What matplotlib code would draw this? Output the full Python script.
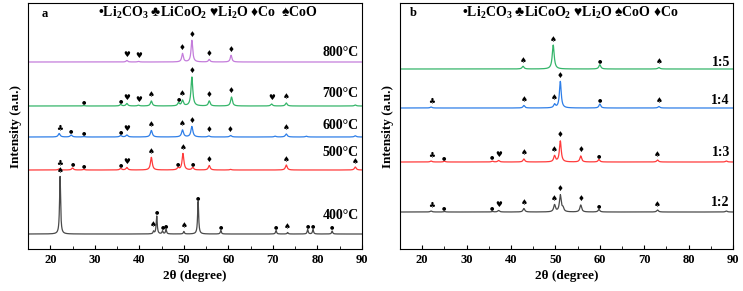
import numpy as np
import matplotlib
matplotlib.use("Agg")
import matplotlib.pyplot as plt

plt.rcParams['font.family'] = ['Liberation Serif', 'DejaVu Sans']
plt.rcParams['font.weight'] = 'bold'
plt.rcParams['mathtext.fontset'] = 'custom'
plt.rcParams['mathtext.rm'] = 'Liberation Serif:bold'
plt.rcParams['mathtext.it'] = 'Liberation Serif:bold'
plt.rcParams['mathtext.bf'] = 'Liberation Serif:bold'
plt.rcParams['mathtext.fallback'] = 'stix'

# ---------------- panel a: calcination temperature ----------------
a_labels = ['400°C', '500°C', '600°C', '700°C', '800°C']
a_colors = ['#4a4a4a', '#ff3b3b', '#2f7fe8', '#35b56a', '#c47ddb']
a_base = [15, 79, 112, 143, 187]
a_width = [0.14, 0.24, 0.26, 0.24, 0.22]
a_peaks = [
    [22.2, 43.2, 43.9, 45.2, 46.0, 50.0, 53.2, 58.3, 70.7, 73.3, 77.8, 79.0, 83.3],
    [22.0, 25.0, 27.5, 35.8, 37.2, 42.7, 48.7, 49.8, 52.0, 55.7, 60.5, 73.0, 88.5],
    [22.0, 24.7, 27.5, 35.8, 37.2, 42.7, 49.7, 51.8, 55.6, 60.5, 70.5, 73.0, 77.5, 88.5],
    [27.5, 35.8, 37.2, 39.8, 42.7, 48.8, 49.7, 51.8, 55.7, 60.7, 69.7, 73.0, 88.5],
    [37.2, 39.8, 49.7, 51.8, 55.7, 60.6],
]
a_heights = [
    [57.6, 2.5, 18.0, 3.0, 4.5, 2.5, 33.0, 3.5, 3.5, 1.5, 4.5, 4.5, 3.0],
    [1.2, 2.0, 0.6, 1.5, 2.5, 12.7, 2.0, 16.5, 2.5, 4.5, 0.6, 5.0, 3.0],
    [3.5, 2.0, 0.4, 1.5, 2.0, 6.5, 7.0, 10.5, 1.0, 1.5, 0.8, 3.0, 0.8, 1.2],
    [0.4, 1.5, 2.5, 0.8, 5.0, 3.0, 5.5, 29.0, 5.0, 9.0, 2.0, 3.0, 1.0],
    [1.5, 0.6, 8.4, 21.7, 2.5, 6.7],
]
a_symbols = [
    ['♠', '♠', '●', '●', '●', '♠', '●', '●', '●', '♠', '●', '●', '●'],
    ['♣', '●', '●', '●', '♥', '♠', '●', '♠', '●', '♦', '', '♠', '♠'],
    ['♣', '●', '●', '●', '♥', '♠', '♠', '♦', '♦', '♦', '', '♠', '', ''],
    ['●', '●', '♥', '♥', '♠', '●', '♠', '♦', '♦', '♦', '♥', '♠', ''],
    ['♥', '♥', '♦', '♦', '♦', '♦'],
]
a_label_y = [34, 97, 124, 156, 196]

# ---------------- panel b: ratio ----------------
b_labels = ['1:2', '1:3', '1:4', '1:5']
b_colors = ['#4a4a4a', '#ff3b3b', '#2f7fe8', '#35b56a']
b_base = [37, 87, 141, 180]
b_width = [0.24, 0.24, 0.24, 0.26]
b_peaks = [
    [22.0, 25.0, 35.8, 37.2, 42.9, 49.8, 51.1, 51.7, 55.7, 59.8, 73.0, 88.5],
    [22.0, 25.0, 35.8, 37.2, 42.9, 49.8, 51.1, 55.7, 59.8, 73.0, 88.5],
    [22.0, 42.9, 49.8, 51.1, 60.0, 73.3],
    [42.7, 49.5, 60.0, 73.3],
]
b_heights = [
    [1.0, 0.5, 0.5, 1.5, 3.5, 7.0, 16.7, 3.5, 7.0, 2.5, 2.0, 1.0],
    [1.0, 0.8, 0.8, 1.5, 3.0, 6.0, 21.0, 6.0, 2.5, 2.0, 1.0],
    [1.0, 2.5, 3.5, 26.6, 4.0, 1.5],
    [2.7, 24.0, 4.3, 1.5],
]
b_symbols = [
    ['♣', '●', '●', '♥', '♠', '♠', '♦', '', '♦', '●', '♠', ''],
    ['♣', '●', '●', '♥', '♠', '♠', '♦', '♦', '●', '♠', ''],
    ['♣', '♠', '♠', '♦', '●', '♠'],
    ['♠', '♠', '●', '♠'],
]
b_label_y = [47, 97, 149, 187]

two_theta = np.linspace(15, 90, 3000)
sym_size = {'●': 3.6, '♠': 5.5, '♣': 5.5, '♥': 5.5, '♦': 5.5}


def pattern(base, peaks, heights, w):
    y = np.full_like(two_theta, base, dtype=float)
    for p, h in zip(peaks, heights):
        y += h * w ** 2 / ((two_theta - p) ** 2 + w ** 2)
    return y


def draw_panel(ax, labels, colors, bases, widths, peaks, heights, symbols, label_y):
    for lab, c, b, w, pk, hs, sy, ly in zip(labels, colors, bases, widths, peaks,
                                             heights, symbols, label_y):
        y = pattern(b, pk, hs, w)
        ax.plot(two_theta, y, color=c, lw=0.9)
        for p, s in zip(pk, sy):
            if not s:
                continue
            top = np.interp(p, two_theta, y)
            ax.text(p, top + 1.5, s, ha='center', va='bottom', fontsize=sym_size[s],
                    family=['DejaVu Sans'], color='black')
        ax.text(89.3, ly, lab, ha='right', va='center', fontsize=10, fontweight='bold')
    ax.set_xlim(15, 90)
    ax.set_ylim(0, 246)
    ax.set_yticks([])
    ax.set_xticks(range(20, 91, 10))
    ax.set_xticks(range(15, 91, 5), minor=True)
    ax.tick_params(axis='x', direction='in', labelsize=9, length=3)
    ax.tick_params(axis='x', which='minor', direction='in', length=2)
    for t in ax.get_xticklabels():
        t.set_fontweight('bold')
    ax.set_xlabel('2θ (degree)', fontsize=9.5, fontweight='bold', labelpad=3)
    ax.set_ylabel('Intensity (a.u.)', fontsize=9.5, fontweight='bold', labelpad=4)


fig = plt.figure(figsize=(7.43, 2.91), dpi=100)
ax1 = fig.add_axes([0.0377, 0.1443, 0.4495, 0.8454])
ax2 = fig.add_axes([0.5384, 0.1443, 0.4482, 0.8454])

draw_panel(ax1, a_labels, a_colors, a_base, a_width, a_peaks, a_heights, a_symbols, a_label_y)
draw_panel(ax2, b_labels, b_colors, b_base, b_width, b_peaks, b_heights, b_symbols, b_label_y)

ax1.text(0.04, 0.955, 'a', transform=ax1.transAxes, fontsize=9, fontweight='bold', va='center')
ax2.text(0.03, 0.96, 'b', transform=ax2.transAxes, fontsize=9, fontweight='bold', va='center')

ax1.text(0.54, 0.96, '•Li$_2$CO$_3$ ♣LiCoO$_2$ ♥Li$_2$O ♦Co  ♠CoO',
         transform=ax1.transAxes, ha='center', va='center', fontsize=10)
ax2.text(0.51, 0.96, '•Li$_2$CO$_3$ ♣LiCoO$_2$ ♥Li$_2$O ♠CoO ♦Co',
         transform=ax2.transAxes, ha='center', va='center', fontsize=10)

fig.savefig('out.png', dpi=100)
